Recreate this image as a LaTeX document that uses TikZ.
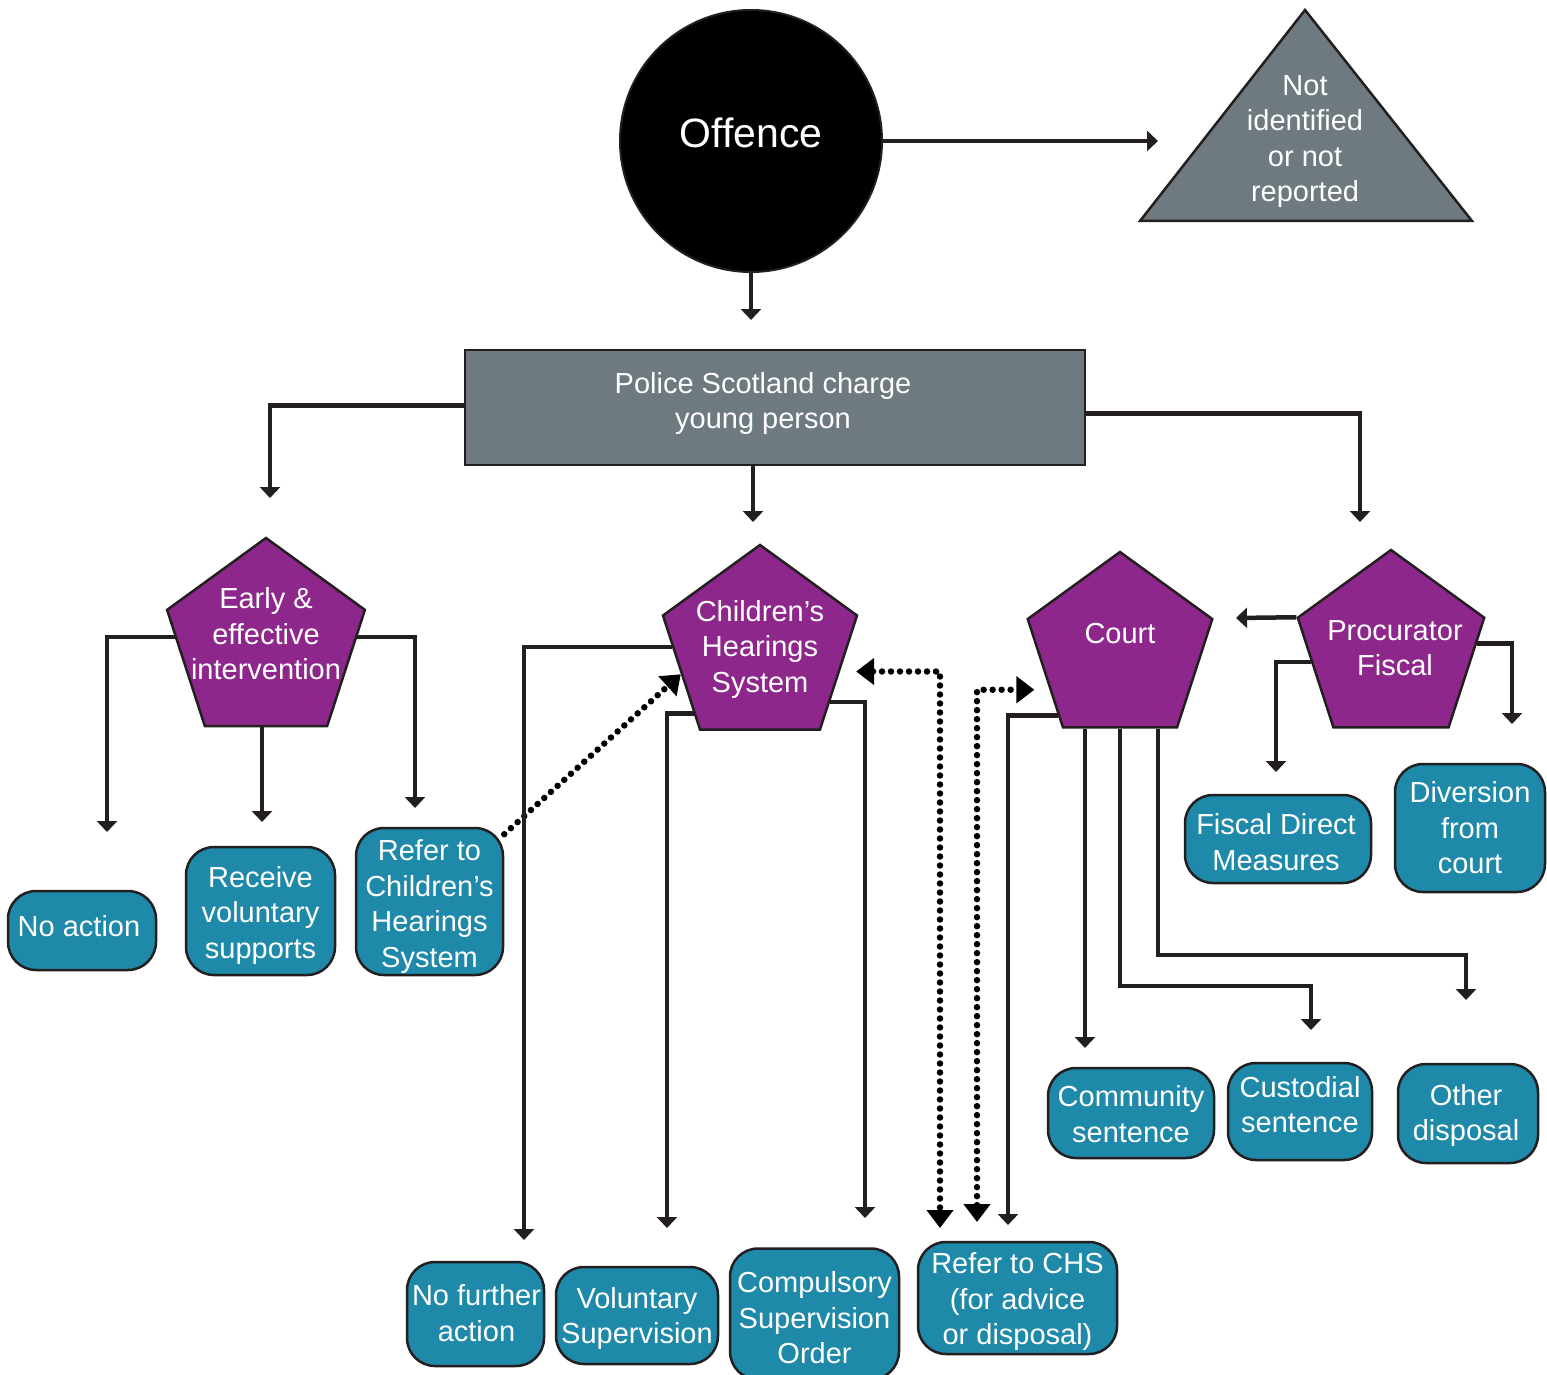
\documentclass[tikz,border=0pt]{standalone}
\usepackage{fontspec}
\setmainfont{Liberation Sans}
\usetikzlibrary{shapes.geometric,arrows.meta}
\definecolor{purp}{RGB}{142,39,140}
\definecolor{tealb}{RGB}{30,137,168}
\definecolor{grayb}{RGB}{110,122,128}
\definecolor{ink}{RGB}{35,31,32}
\tikzset{
  fnt/.style={font=\fontsize{29}{35.5}\selectfont},
  outbox/.style={draw=ink, line width=2.5pt, fill=tealb, rounded corners=28pt, inner sep=0pt},
  pent/.style={draw=ink, line width=2.5pt, fill=purp, regular polygon, regular polygon sides=5, inner sep=0pt},
  ptxt/.style={text=white, fnt, align=center},
  conn/.style={draw=ink, line width=4.5pt, -{Triangle[width=20pt,length=11pt]}},
  dotline/.style={draw=black, line width=6.5pt, line cap=round, dash pattern=on 0pt off 9pt},
  dotone/.style={dotline, -{Triangle[width=26pt,length=18pt]}},
  dottwo/.style={dotline, {Triangle[width=26pt,length=18pt]}-{Triangle[width=26pt,length=18pt]}},
}
\begin{document}
\begin{tikzpicture}[x=1pt,y=-1pt]
\useasboundingbox (0,0) rectangle (1547,1375);

% top
\node[circle, draw=ink, line width=2pt, fill=black, minimum size=262pt, inner sep=0pt,
  label={[text=white, font=\fontsize{41}{48}\selectfont, yshift=8pt]center:Offence}] (offence) at (751,141) {};
\draw[draw=ink, line width=2.5pt, fill=grayb] (1305,10) -- (1472,221) -- (1140,221) -- cycle;
\node[ptxt] (notid) at (1305,141.5) {Not\\identified\\or not\\reported};

\node[draw=ink, line width=2.5pt, fill=grayb, minimum width=620pt, minimum height=115pt, inner sep=0pt,
  label={[ptxt, xshift=-12pt, yshift=4pt]center:Police Scotland charge\\young person}] (police) at (775,407.5) {};

% pentagons
\node[pent, minimum size=208pt, label={[ptxt,yshift=8pt]center:Early \&\\effective\\intervention}] (early) at (266,642) {};
\node[pent, minimum size=204pt, label={[ptxt,yshift=-2pt]center:Children’s\\Hearings\\System}] (chs) at (760,647) {};
\node[pent, minimum size=194pt, label={[ptxt,yshift=15pt]center:Court}] (court) at (1120,649) {};
\node[pent, minimum size=196pt, label={[ptxt,xshift=4pt]center:Procurator\\Fiscal}] (pf) at (1391,648) {};

% outcome boxes
\node[outbox, minimum width=148pt, minimum height=79pt,
  label={[ptxt,xshift=-3pt,yshift=4pt]center:No action}] (noact) at (82,930.5) {};
\node[outbox, minimum width=149pt, minimum height=128pt,
  label={[ptxt,yshift=-4pt]center:Receive\\voluntary\\supports}] (recv) at (260.5,911) {};
\node[outbox, minimum width=147pt, minimum height=147pt,
  label={[ptxt,yshift=-5pt]center:Refer to\\Children’s\\Hearings\\System}] (refer) at (429.5,901.5) {};
\node[outbox, minimum width=186pt, minimum height=88pt,
  label={[ptxt,xshift=-2pt,yshift=-3pt]center:Fiscal Direct\\Measures}] (fdm) at (1278,839) {};
\node[outbox, minimum width=150pt, minimum height=128pt,
  label={[ptxt]center:Diversion\\from\\court}] (div) at (1470,828) {};
\node[outbox, minimum width=166pt, minimum height=90pt,
  label={[ptxt,yshift=-1pt]center:Community\\sentence}] (comm) at (1131,1113) {};
\node[outbox, minimum width=144pt, minimum height=97pt,
  label={[ptxt,yshift=7pt]center:Custodial\\sentence}] (cust) at (1300,1111.5) {};
\node[outbox, minimum width=140pt, minimum height=99pt,
  label={[ptxt,xshift=-2pt,yshift=-2pt]center:Other\\disposal}] (other) at (1468,1113.5) {};
\node[outbox, minimum width=137pt, minimum height=104pt,
  label={[ptxt,xshift=1pt,yshift=1pt]center:No further\\action}] (nfa) at (475.5,1314) {};
\node[outbox, minimum width=162pt, minimum height=97pt,
  label={[ptxt,yshift=-3pt]center:Voluntary\\Supervision}] (vs) at (637,1315.5) {};
\node[outbox, minimum width=169pt, minimum height=131pt,
  label={[ptxt,yshift=-4pt]center:Compulsory\\Supervision\\Order}] (cso) at (814.5,1314) {};
\node[outbox, minimum width=199pt, minimum height=112pt,
  label={[ptxt,yshift=-4pt]center:Refer to CHS\\(for advice\\or disposal)}] (rchs) at (1017.5,1298) {};

% free ends
\coordinate (eTri) at (1158,139);
\coordinate (ePol) at (751,320);
\coordinate (eEarly) at (270,498);
\coordinate (eChs) at (753,522);
\coordinate (ePf) at (1360,522);
\coordinate (eNoact) at (107,832);
\coordinate (eRecv) at (262,822);
\coordinate (eRefer) at (415,808);
\coordinate (eNfa) at (524,1240);
\coordinate (eVs) at (667,1228);
\coordinate (eCso) at (865,1218);
\coordinate (eRchsA) at (940,1228);
\coordinate (eRchsB) at (977,1222);
\coordinate (eRchsC) at (1008,1225);
\coordinate (eComm) at (1085,1048);
\coordinate (eCust) at (1311,1030);
\coordinate (eOther) at (1466,1000);
\coordinate (eCourt) at (1236,618);
\coordinate (eFdm) at (1276,772);
\coordinate (eDiv) at (1512,724);

% connectors
\draw[conn] (offence.east) -- (offence.east -| eTri);
\draw[conn] (offence.south) -- (ePol);
\draw[conn] ([yshift=2pt]police.west) -| (eEarly);
\draw[conn] (police.south -| eChs) -- (eChs);
\draw[conn] ([yshift=-6pt]police.east) -| (ePf);

\draw[conn] ([yshift=5pt]early.west) -| (eNoact);
\draw[conn] (eRecv |- early.south) -- (eRecv);
\draw[conn] ([yshift=5pt]early.east) -| (eRefer);
\draw[dotone] (refer.42) -- (chs.199.8);

\draw[conn] (chs.west) -| (eNfa);
\draw[conn] (chs.south west) -| (eVs);
\draw[conn] (chs.-38) -| (eCso);
\draw[dottwo] ([xshift=16pt]chs.-17.6) -| (eRchsA);
\draw[dottwo] (eRchsB) |- ([xshift=-15pt]court.210.6);
\draw[conn] (court.227.2) -| (eRchsC);

\draw[conn] (eComm |- court.south) -- (eComm);
\draw[conn] (court.south) -- ++(0,257) -| (eCust);
\draw[conn] ([xshift=38pt]court.south) -- ++(0,226) -| (eOther);

\draw[conn] (pf.corner 2) -- (eCourt);
\draw[conn] (pf.190.8) -| (eFdm);
\draw[conn] (pf.3.4) -| (eDiv);
\end{tikzpicture}
\end{document}
